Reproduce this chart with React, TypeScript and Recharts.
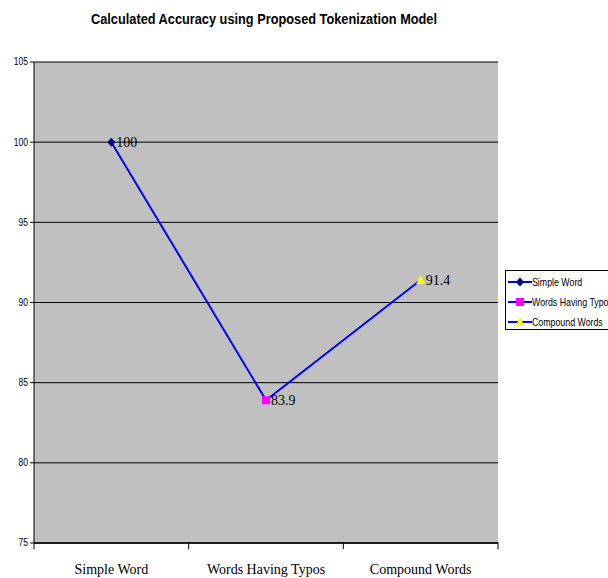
import { LineChart, Line, XAxis, YAxis, CartesianGrid, LabelList } from 'recharts'

const categories = ['Simple Word', 'Words Having Typos', 'Compound Words']
const accuracy = [100, 83.9, 91.4]
const seriesNames = ['Simple Word', 'Words Having Typo', 'Compound Words']
const markerColors = ['#000080', '#FF00FF', '#FFFF00']
const yTicks = [75, 80, 85, 90, 95, 100, 105]

const data = categories.map((c, i) => ({ name: c, value: accuracy[i] }))

const W = 608
const H = 578
const PLOT_LEFT = 34
const PLOT_RIGHT = 498
const HALF_BAND = (PLOT_RIGHT - PLOT_LEFT) / categories.length / 2
const SANS = 'Arial, "Liberation Sans", sans-serif'
const SERIF = '"Liberation Serif", "Times New Roman", serif'

function Marker({ kind, cx, cy, color }: { kind: number; cx: number; cy: number; color: string }) {
  if (kind === 0) {
    return <polygon points={`${cx},${cy - 4.5} ${cx + 4},${cy} ${cx},${cy + 4.5} ${cx - 4},${cy}`} fill={color} />
  }
  if (kind === 1) {
    return <rect x={cx - 4} y={cy - 4} width={8} height={8} fill={color} />
  }
  return <polygon points={`${cx},${cy - 5} ${cx + 4.5},${cy + 4} ${cx - 4.5},${cy + 4}`} fill={color} />
}

// eslint-disable-next-line @typescript-eslint/no-explicit-any
const renderDot = (props: any) => {
  const { cx, cy, index } = props
  return <Marker key={`dot-${index}`} kind={index} cx={cx} cy={cy} color={markerColors[index]} />
}

// eslint-disable-next-line @typescript-eslint/no-explicit-any
const CategoryTick = (props: any) => {
  const { x, y, payload, index } = props
  return (
    <g>
      <line x1={x - HALF_BAND} x2={x - HALF_BAND} y1={y - 8} y2={y - 2} stroke="#000" />
      {index === categories.length - 1 && (
        <line x1={x + HALF_BAND} x2={x + HALF_BAND} y1={y - 8} y2={y - 2} stroke="#000" />
      )}
      <text x={x} y={y + 23} textAnchor="middle" fontFamily={SERIF} fontSize={14} fill="#000">
        {payload.value}
      </text>
    </g>
  )
}

// eslint-disable-next-line @typescript-eslint/no-explicit-any
const YTick = (props: any) => {
  const { x, y, payload } = props
  return (
    <text
      x={x}
      y={y + 3.5}
      textAnchor="end"
      fontFamily={SANS}
      fontSize={10}
      fill="#000"
      transform={`translate(${x} 0) scale(0.85 1) translate(${-x} 0)`}
    >
      {payload.value}
    </text>
  )
}

const LegendBox = () => (
  <div
    style={{
      position: 'absolute',
      left: 505,
      top: 270,
      width: 120,
      height: 57,
      border: '1px solid #000',
      background: '#fff',
      padding: '1px 0 0 2px',
      fontFamily: SANS,
      fontSize: 11,
      color: '#000',
    }}
  >
    {seriesNames.map((n, i) => (
      <div key={n} style={{ display: 'flex', alignItems: 'center', height: 20, whiteSpace: 'nowrap' }}>
        <svg width={24} height={12} style={{ flex: 'none' }}>
          <line x1={0} x2={24} y1={6} y2={6} stroke="#0000FF" strokeWidth={2} />
          <Marker kind={i} cx={12} cy={6} color={markerColors[i]} />
        </svg>
        <span style={{ display: 'inline-block', transform: 'scaleX(0.8)', transformOrigin: 'left center' }}>{n}</span>
      </div>
    ))}
  </div>
)

export default function App() {
  return (
    <div style={{ position: 'absolute', left: 0, top: 0, width: W, height: H, background: '#fff', overflow: 'hidden' }}>
      <div
        style={{
          position: 'absolute',
          left: 0,
          width: 528,
          top: 11,
          textAlign: 'center',
          fontFamily: SANS,
          fontWeight: 'bold',
          fontSize: 14.5,
          color: '#000',
          transform: 'scaleX(0.88)',
          transformOrigin: '264px 0',
        }}
      >
        Calculated Accuracy using Proposed Tokenization Model
      </div>
      <LineChart width={W} height={H} data={data} margin={{ top: 62, right: W - PLOT_RIGHT, bottom: 0, left: 0 }}>
        <CartesianGrid vertical={false} stroke="#000" fill="#C0C0C0" fillOpacity={1} />
        <XAxis
          dataKey="name"
          scale="band"
          height={35}
          tickLine={false}
          axisLine={{ stroke: '#000', strokeWidth: 1.5 }}
          tick={<CategoryTick />}
          interval={0}
        />
        <YAxis
          domain={[75, 105]}
          ticks={yTicks}
          width={PLOT_LEFT}
          tickSize={4}
          tickLine={{ stroke: '#000' }}
          axisLine={{ stroke: '#000' }}
          tick={<YTick />}
          interval={0}
        />
        <YAxis yAxisId="r" orientation="right" width={0} tick={false} tickLine={false} axisLine={{ stroke: '#808080' }} />
        <Line
          dataKey="value"
          stroke="#0000FF"
          strokeWidth={2}
          dot={renderDot}
          activeDot={false}
          isAnimationActive={false}
        >
          <LabelList dataKey="value" position="right" offset={5} fontFamily={SERIF} fontSize={14} fill="#000" />
        </Line>
      </LineChart>
      <LegendBox />
    </div>
  )
}
